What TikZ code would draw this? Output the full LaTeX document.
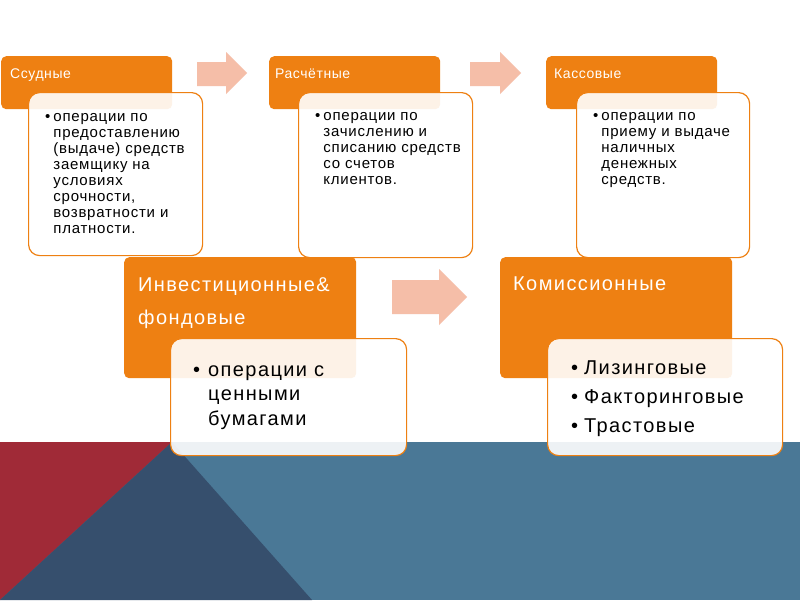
\documentclass[tikz,border=0pt]{standalone}
\usepackage{fontspec}
\setmainfont{Liberation Sans}
\definecolor{HeadClr}{RGB}{238,128,18}
\definecolor{ArrowClr}{RGB}{245,190,168}
\definecolor{RedClr}{RGB}{160,42,55}
\definecolor{DarkClr}{RGB}{54,79,109}
\definecolor{SteelClr}{RGB}{74,120,150}

\begin{document}
\begin{tikzpicture}[x=1pt,y=-1pt,
  hdrbox/.style={fill=HeadClr,rounded corners=5pt,inner sep=0pt,anchor=north west},
  bodybox/.style={draw=HeadClr,line width=1.2pt,fill=white,fill opacity=0.9,rounded corners=11pt,inner sep=0pt,anchor=north west},
  hdrtxt/.style={text=white,inner sep=0pt,anchor=base west,font=\fontsize{14}{16}\selectfont\addfontfeature{LetterSpace=4}},
  Hdrtxt/.style={text=white,inner sep=0pt,anchor=base west,font=\fontsize{20}{33}\selectfont\addfontfeature{LetterSpace=7}},
  smalltxt/.style={inner sep=0pt,anchor=base west,font=\fontsize{15}{16}\selectfont\addfontfeature{LetterSpace=5}},
  bigtxt/.style={inner sep=0pt,anchor=base west,font=\fontsize{20}{#1}\selectfont\addfontfeature{LetterSpace=7}},
  flow/.style={fill=ArrowClr}]

\useasboundingbox (0,0) rectangle (800,600);
\fill[white] (0,0) rectangle (800,600);

\fill[SteelClr] (0,442) rectangle (800,600);
\fill[RedClr] (0,442) -- (172,442) -- (0,600) -- cycle;
\fill[DarkClr] (172,442) -- (312,600) -- (0,600) -- cycle;

\fill[flow] (197,62) -- (226,62) -- (226,52) -- (247,73) -- (226,94) -- (226,86) -- (197,86) -- cycle;
\fill[flow] (470,62) -- (500,62) -- (500,52) -- (521,73) -- (500,94) -- (500,86) -- (470,86) -- cycle;
\fill[flow] (392,280) -- (439,280) -- (439,269) -- (467,297) -- (439,325) -- (439,314) -- (392,314) -- cycle;

\node[hdrbox,minimum width=171pt,minimum height=53pt] (ssudH) at (1,56) {};
\node[hdrbox,minimum width=171pt,minimum height=53pt] (raschH) at (269,56) {};
\node[hdrbox,minimum width=171pt,minimum height=53pt] (kassH) at (546,56) {};
\node[hdrbox,minimum width=232pt,minimum height=121pt] (investH) at (124,257) {};
\node[hdrbox,minimum width=232pt,minimum height=121pt] (komisH) at (500,257) {};

\node[hdrtxt] (ssudT) at (10,78) {Ссудные};
\node[hdrtxt] (raschT) at (275,78) {Расчётные};
\node[hdrtxt] (kassT) at (554,78) {Кассовые};
\node[Hdrtxt] (investT) at (138,291) {\begin{tabular}[t]{@{}l@{}}Инвестиционные\&\\фондовые\end{tabular}};
\node[Hdrtxt] (komisT) at (513,290) {Комиссионные};

\node[bodybox,minimum width=174pt,minimum height=163pt] (ssudB) at (28,92) {};
\node[bodybox,minimum width=174pt,minimum height=165pt] (raschB) at (298,92) {};
\node[bodybox,minimum width=173pt,minimum height=165pt] (kassB) at (576,92) {};
\node[bodybox,minimum width=236pt,minimum height=117pt] (investB) at (170,338) {};
\node[bodybox,minimum width=235pt,minimum height=117pt] (komisB) at (547,338) {};

\node[smalltxt] (ssudL) at (45,121) {\begin{tabular}[t]{@{}l@{\hspace{3pt}}l@{}}
•&операции по\\&предоставлению\\&(выдаче) средств\\&заемщику на\\&условиях\\&срочности,\\&возвратности и\\&платности.\end{tabular}};
\node[smalltxt] (raschL) at (315,120) {\begin{tabular}[t]{@{}l@{\hspace{3pt}}l@{}}
•&операции по\\&зачислению и\\&списанию средств\\&со счетов\\&клиентов.\end{tabular}};
\node[smalltxt] (kassL) at (593,120) {\begin{tabular}[t]{@{}l@{\hspace{3pt}}l@{}}
•&операции по\\&приему и выдаче\\&наличных\\&денежных\\&средств.\end{tabular}};
\node[bigtxt=24.5] (investL) at (193,376) {\begin{tabular}[t]{@{}l@{\hspace{8pt}}l@{}}
•&операции с\\&ценными\\&бумагами\end{tabular}};
\node[bigtxt=29] (komisL) at (571,374) {\begin{tabular}[t]{@{}l@{\hspace{6pt}}l@{}}
•&Лизинговые\\•&Факторинговые\\•&Трастовые\end{tabular}};

\end{tikzpicture}
\end{document}
